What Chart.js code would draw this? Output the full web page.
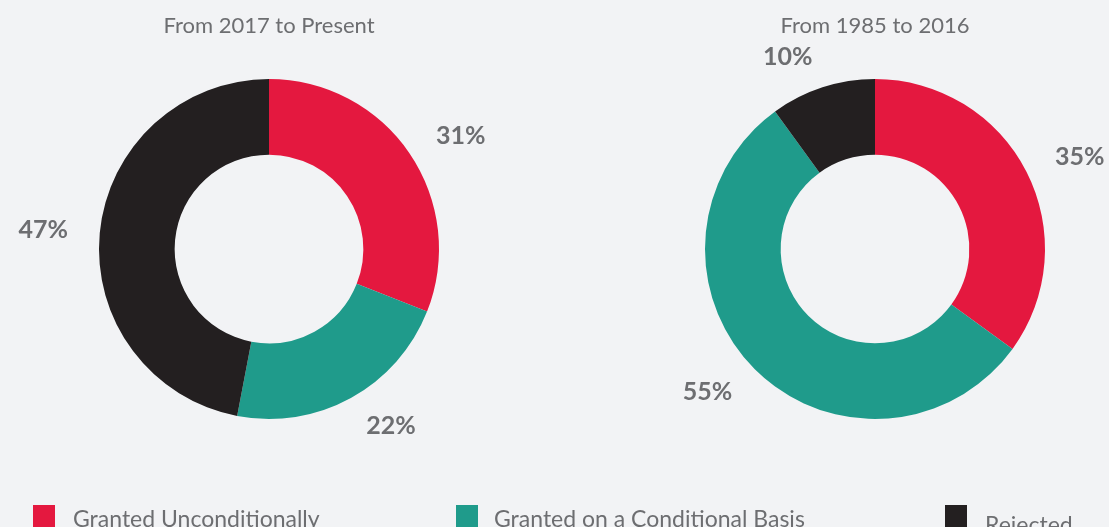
<!DOCTYPE html>
<html>
<head>
<meta charset="utf-8">
<script src="https://cdn.jsdelivr.net/npm/chart.js@4/dist/chart.umd.min.js"></script>
<style>
  html, body { margin: 0; padding: 0; background: #f2f3f5; }
  body { width: 1109px; height: 527px; position: relative; overflow: hidden; font-family: Lato, "Open Sans", sans-serif; }
  .wrap { position: absolute; top: 0; height: 527px; }
  #wrapLeft  { left: 0;     width: 538px; }
  #wrapRight { left: 538px; width: 571px; }
  .legend-item { position: absolute; color: #6d6e71; font-size: 23px; white-space: nowrap; }
  .legend-item span.box { position: absolute; left: 0; top: 0; width: 22px; height: 22px; }
  .legend-item span.txt { position: absolute; top: -1px; }
</style>
</head>
<body>
<div class="wrap" id="wrapLeft"><canvas id="chartLeft"></canvas></div>
<div class="wrap" id="wrapRight"><canvas id="chartRight"></canvas></div>
<div id="legend"></div>

<script>
// Datos
const CATEGORIES   = ["Granted Unconditionally", "Granted on a Conditional Basis", "Rejected"];
const COLORS       = ["#e4183f", "#1f9b8b", "#231f20"];
const TITLE_LEFT   = "From 2017 to Present";
const TITLE_RIGHT  = "From 1985 to 2016";
const VALUES_LEFT  = [31, 22, 47];
const VALUES_RIGHT = [35, 55, 10];

const TEXT_COLOR = "#6d6e71";

// ---------- Plugin: título + etiquetas de porcentaje ----------
const labelsPlugin = {
  id: "pctLabels",
  afterDatasetsDraw(chart, args, opts) {
    const ctx = chart.ctx;
    const meta = chart.getDatasetMeta(0);
    const data = chart.data.datasets[0].data;
    ctx.save();
    ctx.fillStyle = TEXT_COLOR;

    // Título
    const first = meta.data[0];
    ctx.font = "22px Lato";
    ctx.textAlign = "center";
    ctx.textBaseline = "middle";
    ctx.fillText(opts.title, first.x, 26);

    // Porcentajes fuera del anillo
    ctx.font = "bold 25px Lato";
    meta.data.forEach((arc, i) => {
      const mid = (arc.startAngle + arc.endAngle) / 2;
      const r = arc.outerRadius + 32;
      const x = arc.x + Math.cos(mid) * r;
      const y = arc.y + Math.sin(mid) * r;
      ctx.textAlign = Math.cos(mid) >= 0 ? "left" : "right";
      ctx.fillText(`${data[i]}%`, x, y);
    });
    ctx.restore();
  }
};

function makeDoughnut(id, values, title, padding) {
  return new Chart(document.getElementById(id), {
    type: "doughnut",
    data: {
      labels: CATEGORIES,
      datasets: [{
        data: values,
        backgroundColor: COLORS,
        borderWidth: 0,
        hoverOffset: 0
      }]
    },
    options: {
      responsive: true,
      maintainAspectRatio: false,
      animation: false,
      cutout: "55.5%",
      layout: { padding },
      plugins: {
        legend: { display: false },
        tooltip: { enabled: false },
        pctLabels: { title }
      },
      events: []
    },
    plugins: [labelsPlugin]
  });
}

// ---------- Leyenda HTML ----------
function buildLegend() {
  const legend = document.getElementById("legend");
  const lefts = [33, 456, 945];
  CATEGORIES.forEach((name, i) => {
    const item = document.createElement("div");
    item.className = "legend-item";
    item.style.left = lefts[i] + "px";
    item.style.top = "505px";
    item.innerHTML = `<span class="box" style="background:${COLORS[i]}"></span>` +
                     `<span class="txt" style="left:${i === 1 ? 38 : 40}px;${i === 2 ? "top:5px;" : ""}">${name}</span>`;
    legend.appendChild(item);
  });
}

makeDoughnut("chartLeft",  VALUES_LEFT,  TITLE_LEFT,  { left: 99,  right: 99, top: 79, bottom: 108 });
makeDoughnut("chartRight", VALUES_RIGHT, TITLE_RIGHT, { left: 167, right: 64, top: 79, bottom: 108 });
buildLegend();
</script>
</body>
</html>
